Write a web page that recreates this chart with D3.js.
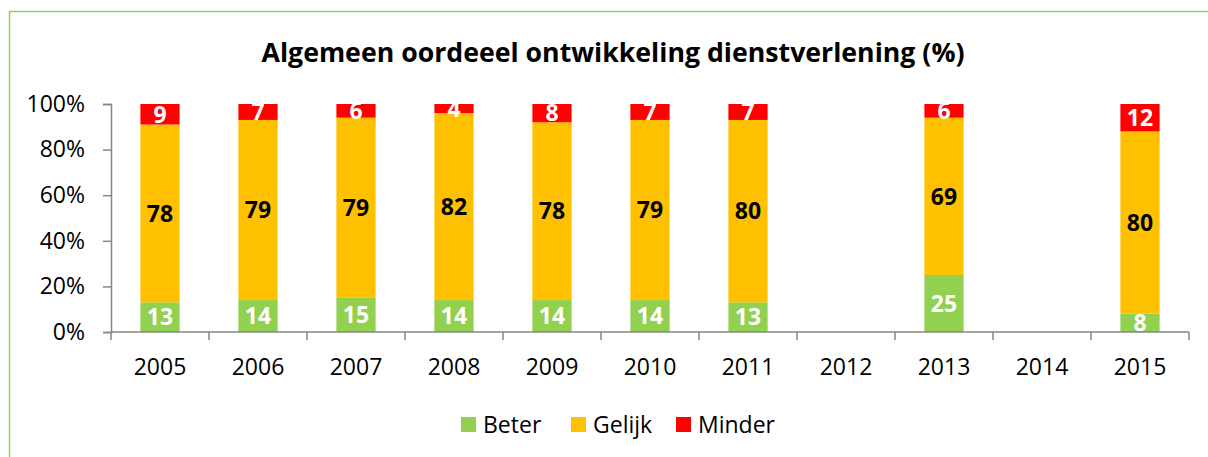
<!DOCTYPE html>
<html>
<head>
<meta charset="utf-8">
<script src="https://cdn.jsdelivr.net/npm/d3@7"></script>
<style>
  body { margin: 0; background: #fff; }
  svg text { font-family: "Open Sans", sans-serif; }
</style>
</head>
<body>
<div id="chart"></div>
<script>
var years = ["2005", "2006", "2007", "2008", "2009", "2010", "2011", "2012", "2013", "2014", "2015"];
var beter  = [13, 14, 15, 14, 14, 14, 13, null, 25, null, 8];
var gelijk = [78, 79, 79, 82, 78, 79, 80, null, 69, null, 80];
var minder = [9, 7, 6, 4, 8, 7, 7, null, 6, null, 12];
var seriesNames = ["Beter", "Gelijk", "Minder"];
var seriesColors = ["#92D050", "#FFC000", "#FF0000"];
var labelColors = ["#fff", "#000", "#fff"];
var yTicks = [0, 20, 40, 60, 80, 100];

var width = 1208,
    height = 457,
    margin = {top: 104, left: 111, right: 19, bottom: 125};

var svg = d3.select("#chart").append("svg")
    .attr("width", width)
    .attr("height", height);

// green frame (right and bottom edges fall outside the picture)
svg.append("path")
    .attr("d", "M9.5," + height + "V11.5H" + width)
    .attr("fill", "none")
    .attr("stroke", "#92D050")
    .attr("stroke-width", 1.5);

svg.append("text")
    .attr("x", 613)
    .attr("y", 62)
    .attr("text-anchor", "middle")
    .attr("font-size", 27)
    .attr("font-weight", "bold")
    .attr("textLength", 703)
    .attr("lengthAdjust", "spacingAndGlyphs")
    .text("Algemeen oordeeel ontwikkeling dienstverlening (%)");

var x = d3.scaleBand()
    .domain(years)
    .range([margin.left, width - margin.right])
    .paddingInner(0.6)
    .paddingOuter(0.3);

var y = d3.scaleLinear()
    .domain([0, 100])
    .range([height - margin.bottom, margin.top]);

var rows = years.map(function(yr, i) {
  return {year: yr, Beter: beter[i], Gelijk: gelijk[i], Minder: minder[i]};
});

var stack = d3.stack().keys(seriesNames);
var layers = stack(rows.filter(function(d) { return d.Beter != null; }));

var g = svg.append("g");

layers.forEach(function(layer, li) {
  g.selectAll(".bar" + li)
      .data(layer)
    .enter().append("rect")
      .attr("x", function(d) { return x(d.data.year); })
      .attr("width", x.bandwidth())
      .attr("y", function(d) { return y(d[1]); })
      .attr("height", function(d) { return y(d[0]) - y(d[1]); })
      .attr("fill", seriesColors[li]);
});

layers.forEach(function(layer, li) {
  g.selectAll(".lab" + li)
      .data(layer)
    .enter().append("text")
      .attr("x", function(d) { return x(d.data.year) + x.bandwidth() / 2; })
      .attr("y", function(d) { return (y(d[0]) + y(d[1])) / 2; })
      .attr("dy", "0.36em")
      .attr("text-anchor", "middle")
      .attr("font-size", 23)
      .attr("font-weight", "bold")
      .attr("fill", labelColors[li])
      .text(function(d) { return d.data[seriesNames[li]]; });
});

// y axis
var yAxis = svg.append("g")
    .attr("transform", "translate(" + margin.left + ",0)")
    .call(d3.axisLeft(y).tickValues(yTicks).tickSize(8).tickPadding(18)
      .tickFormat(function(d) { return d + "%"; }));
yAxis.select(".domain").attr("stroke", "#868686").attr("stroke-width", 1.5);
yAxis.selectAll(".tick line").attr("stroke", "#868686").attr("stroke-width", 1.5);
yAxis.selectAll("text").attr("font-size", 23).attr("fill", "#000")
    .attr("font-family", "'Open Sans', sans-serif");

// x axis, ticks sit between the categories
var step = x.step();
var xAxisG = svg.append("g")
    .attr("transform", "translate(0," + y(0) + ")");
xAxisG.append("line")
    .attr("x1", margin.left).attr("x2", width - margin.right)
    .attr("stroke", "#868686").attr("stroke-width", 1.5);
var edges = years.map(function(yr) { return x(yr) + x.bandwidth() / 2 - step / 2; });
edges.push(x(years[years.length - 1]) + x.bandwidth() / 2 + step / 2);
xAxisG.selectAll(".xt")
    .data(edges)
  .enter().append("line")
    .attr("x1", function(d) { return d; })
    .attr("x2", function(d) { return d; })
    .attr("y1", 0).attr("y2", 8)
    .attr("stroke", "#868686").attr("stroke-width", 1.5);
xAxisG.selectAll(".xl")
    .data(years)
  .enter().append("text")
    .attr("x", function(d) { return x(d) + x.bandwidth() / 2; })
    .attr("y", 35)
    .attr("dy", "0.36em")
    .attr("text-anchor", "middle")
    .attr("font-size", 23)
    .text(function(d) { return d; });

// legend
var legendX = [461, 571, 676];
var legend = svg.selectAll(".legend")
    .data(seriesNames)
  .enter().append("g")
    .attr("transform", function(d, i) { return "translate(" + legendX[i] + ",417)"; });
legend.append("rect")
    .attr("width", 15).attr("height", 15)
    .attr("fill", function(d, i) { return seriesColors[i]; });
legend.append("text")
    .attr("x", 22)
    .attr("y", 7.5)
    .attr("dy", "0.36em")
    .attr("font-size", 23)
    .text(function(d) { return d; });
</script>
</body>
</html>
